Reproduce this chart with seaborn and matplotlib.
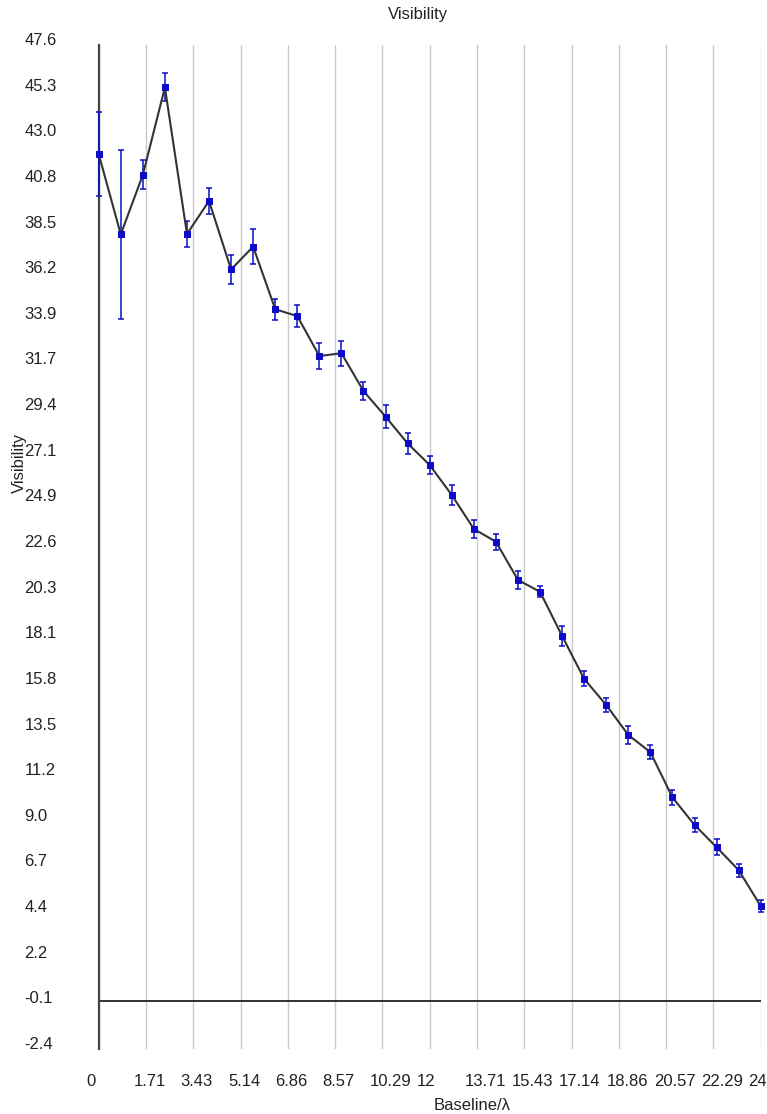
import numpy as np
import pandas as pd
import matplotlib
matplotlib.use("Agg")
import matplotlib.pyplot as plt
import matplotlib.transforms as mtrans
import seaborn as sns

# ---- data ----
baseline = [0.0, 0.8, 1.6, 2.4, 3.2, 4.0, 4.8, 5.6, 6.4, 7.2, 8.0, 8.8, 9.6, 10.4,
            11.2, 12.0, 12.8, 13.6, 14.4, 15.2, 16.0, 16.8, 17.6, 18.4, 19.2, 20.0,
            20.8, 21.6, 22.4, 23.2, 24.0]
visibility = [42.17, 38.17, 41.13, 45.49, 38.19, 39.83, 36.42, 37.56, 34.44, 34.10,
              32.11, 32.25, 30.37, 29.09, 27.76, 26.68, 25.19, 23.50, 22.86, 20.96,
              20.37, 18.17, 16.03, 14.73, 13.24, 12.38, 10.13, 8.76, 7.65, 6.51, 4.72]
errors = [2.07, 4.2, 0.72, 0.7, 0.64, 0.64, 0.7, 0.87, 0.53, 0.55, 0.67, 0.63, 0.44,
          0.57, 0.52, 0.44, 0.5, 0.43, 0.4, 0.44, 0.28, 0.5, 0.37, 0.35, 0.46, 0.35,
          0.37, 0.33, 0.39, 0.32, 0.3]
x_tick_labels = ["0", "1.71", "3.43", "5.14", "6.86", "8.57", "10.29", "12", "13.71",
                 "15.43", "17.14", "18.86", "20.57", "22.29", "24"]
y_tick_labels = ["-2.4", "-0.1", "2.2", "4.4", "6.7", "9.0", "11.2", "13.5", "15.8",
                 "18.1", "20.3", "22.6", "24.9", "27.1", "29.4", "31.7", "33.9", "36.2",
                 "38.5", "40.8", "43.0", "45.3", "47.6"]
title = "Visibility"
x_label = "Baseline/\u03bb"
y_label = "Visibility"

df = pd.DataFrame({"Baseline": baseline, "Visibility": visibility, "err": errors})

sns.set_style("white")
plt.rcParams["font.family"] = ["Liberation Sans", "DejaVu Sans"]

W, H = 767, 1114
fig = plt.figure(figsize=(W / 100, H / 100), dpi=100)
ax = fig.add_axes([98.7 / W, 65 / H, 662 / W, 1004 / H])

blue = "#0a0ac8"
ax.errorbar(df["Baseline"], df["Visibility"], yerr=df["err"], fmt="none",
            ecolor=blue, elinewidth=1.1, capsize=1.9, capthick=1.1,
            zorder=4, clip_on=False)
sns.lineplot(data=df, x="Baseline", y="Visibility", ax=ax, color="#333333",
             linewidth=1.5, marker="s", markersize=5, markerfacecolor=blue,
             markeredgecolor=blue, zorder=5, clip_on=False)

ax.set_xlim(0, 24)
ax.set_ylim(-2.4, 47.6)
ax.set_xticks(np.linspace(0, 24, len(x_tick_labels)))
ax.set_xticklabels(x_tick_labels)
ax.set_yticks(np.linspace(-2.4, 47.6, len(y_tick_labels)))
ax.set_yticklabels(y_tick_labels)

# vertical grid
ax.grid(axis="x", color="#c8c8c8", linewidth=1.0)
ax.grid(axis="y", visible=False)
ax.set_axisbelow(True)

# zero line
ax.axhline(0, color="#222222", linewidth=1.3, zorder=3)

for s in ["top", "right", "bottom"]:
    ax.spines[s].set_visible(False)
ax.spines["left"].set_color("#444444")
ax.spines["left"].set_linewidth(1.6)
ax.spines["left"].set_zorder(3)

ax.tick_params(axis="x", length=0, pad=18, labelsize=12, labelcolor="#222222")
ax.tick_params(axis="y", length=7, direction="inout", width=0.8, color="#aaaaaa",
               pad=50, labelsize=12, labelcolor="#222222")

off_x = mtrans.ScaledTranslation(-12.5 / 100, 0, fig.dpi_scale_trans)
for lab in ax.get_xticklabels():
    lab.set_horizontalalignment("left")
    lab.set_transform(lab.get_transform() + off_x)
for lab in ax.get_yticklabels():
    lab.set_horizontalalignment("left")
    lab.set_verticalalignment("baseline")

ax.set_xlabel("")
ax.set_ylabel("")
fig.text(418 / W, 1 - 14 / H, title, ha="center", va="center", fontsize=12, color="#222222")
fig.text(471.7 / W, 1 - 1105 / H, x_label, ha="center", va="center", fontsize=12, color="#222222")
fig.text(19 / W, 1 - 463 / H, y_label, ha="center", va="center", rotation=90,
         fontsize=12, color="#222222")

fig.savefig("out.png", dpi=100, facecolor="white")
